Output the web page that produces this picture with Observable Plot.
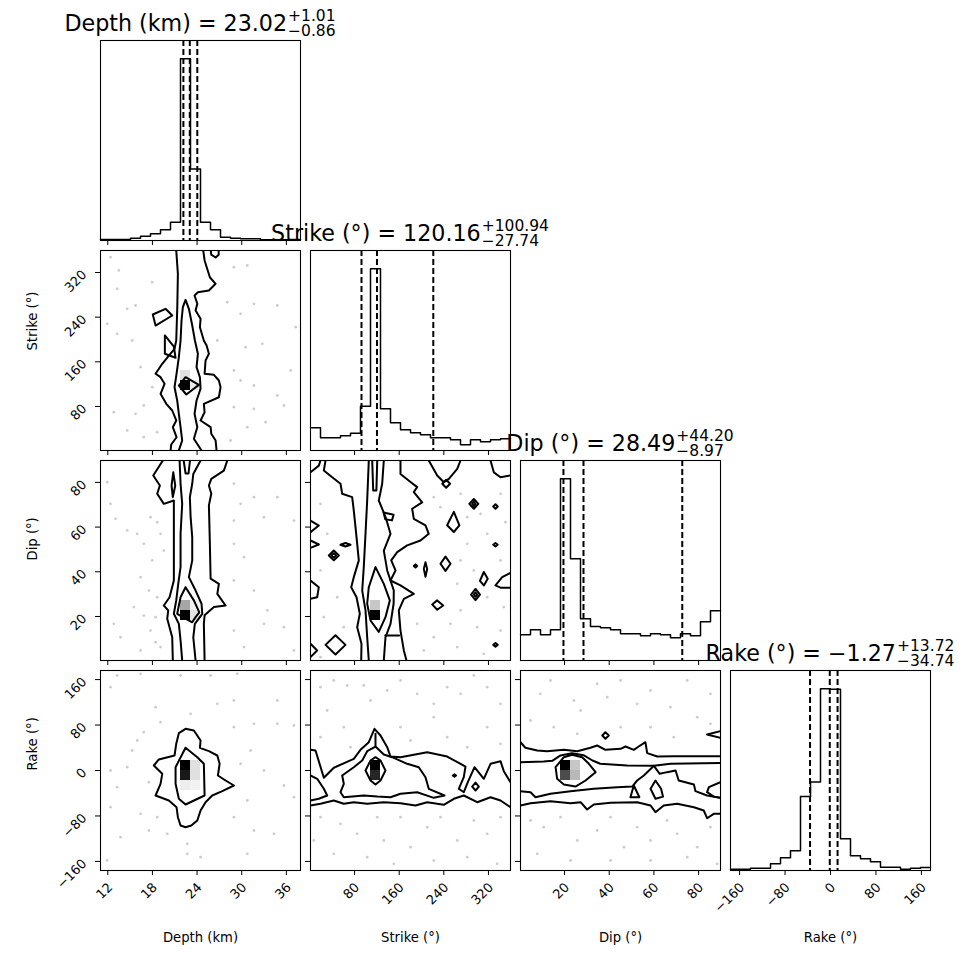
<!DOCTYPE html>
<html><head><meta charset="utf-8">
<script src="https://cdn.jsdelivr.net/npm/d3@7"></script>
<script src="https://cdn.jsdelivr.net/npm/@observablehq/plot@0.6"></script>
<style>
body{margin:0;background:#fff;}
#chart{position:relative;width:970px;height:970px;font-family:"DejaVu Sans",sans-serif;background:#fff;}
</style></head><body><div id="chart"></div>
<script>
// ---------- DATA ----------
const names = ["Depth (km)", "Strike (\u00b0)", "Dip (\u00b0)", "Rake (\u00b0)"];
const depthRange = [11.02, 37.9];
const strikeRange = [1, 359.5];
const dipRange = [0.3, 89.8];
const rakeRange = [-176, 176];

const depthTicks = [12, 18, 24, 30, 36];
const strikeTicks = [80, 160, 240, 320];
const dipTicks = [20, 40, 60, 80];
const rakeTicks = [-160, -80, 0, 80, 160];

const depthHist = [3,3,3,7,13,20,32,55,547,215,55,32,10,7,5,5,2,2,2,3];
const strikeHist = [68,38,38,44,52,133,545,125,83,62,53,47,38,38,32,17,32,26,32,35];
const dipHist = [77,92,77,92,545,305,125,102,98,92,80,80,74,80,77,68,80,74,116,149];
const rakeHist = [4,4,7,7,20,38,59,222,265,545,543,95,44,35,26,10,10,4,7,9];

const medians = [23.02, 120.16, 28.49, -1.27];
const errPlus = [1.01, 100.94, 44.20, 13.72];
const errMinus = [0.86, 27.74, 8.97, 34.74];

// contour polylines [x, y] in data units
const contoursDepthStrike = [
  [[20.44,1],[20.53,11.8],[21.24,24.8],[20.74,42.8],[21.2,54.8],[20.66,72.7],[19.86,84.7],[19.09,102.6],[19.63,120.5],[19.09,132.4],[18.42,138.5],[19.32,156.4],[20.21,171.2],[20.97,183.3],[21.2,198.2],[21.34,257.9],[21.42,317.7],[21.2,359.5]],
  [[24.83,359.5],[25.01,341.6],[25.72,311.6],[26.49,299.8],[25.59,287.8],[24.11,284.8],[23.66,278.8],[24.03,264],[23.8,252],[24.47,237.1],[24.38,222],[24.91,198.2],[25.28,189.2],[25.59,174.3],[25.14,162.3],[25.01,138.5],[26.26,136.7],[26.93,126.5],[27.16,114.5],[26.93,96.5],[24.91,84.6],[25.01,69.6],[24.47,54.8],[25.82,42.8],[25.91,30.9],[26.49,18.9],[26.62,1]],
  [[18.05,244.8],[19.76,255],[20.66,243],[18.42,225],[18.05,244.8]],
  [[19.67,207.2],[20.88,187.4],[21.11,167.2],[19.67,174.4],[19.67,207.2]],
  [[25.85,359.5],[25.9,352],[26.5,347],[26.9,352],[26.9,359.5]],
  [[21.55,1],[22.0,18.9],[21.78,42.8],[21.55,66.8],[21.33,90.6],[20.97,114.5],[21.24,138.5],[21.55,168.2],[21.78,198.2],[21.91,234],[22.09,257.9],[22.45,271.1],[22.9,255],[23.35,225],[23.71,198.2],[24.11,174.3],[23.93,150.4],[24.38,132.4],[24.47,111.6],[23.93,90.6],[23.66,66.8],[24.03,42.8],[23.57,22],[24.6,1]],
  [[21.55,117.5],[22.45,132.4],[24.24,118.7],[22.55,101.4],[21.55,117.5]]
];
const contoursDepthDip = [
  [[19.4,89.8],[18.11,83.1],[19.0,78.6],[18.64,74.9],[19.53,70.4],[20.88,71.9],[20.88,57.0],[20.88,36.1],[20.3,28.6],[19.53,24.9],[20.12,22.7],[19.99,19.0],[20.66,10.7],[20.74,0.3]],
  [[28.06,89.8],[27.6,85.3],[25.91,81.6],[25.59,78.6],[25.91,74.9],[25.59,69.7],[25.72,52.5],[25.82,36.9],[26.93,34.6],[26.72,30.1],[27.83,24.9],[26.26,24.2],[25.01,20.5],[24.91,16.7],[25.01,0.3]],
  [[21.65,89.8],[21.78,79.4],[22.0,70.4],[21.78,57.0],[21.78,42.1],[21.47,34.6],[21.2,27.2],[20.88,21.2],[21.55,16.7],[21.78,9.3],[22.0,0.3]],
  [[24.47,89.8],[23.49,83.8],[23.35,79.4],[23.03,73.4],[23.13,64.6],[23.35,55.5],[23.35,45.1],[22.9,37.6],[23.8,31.6],[24.6,25.7],[24.7,21.2],[23.7,16.7],[23.49,10.7],[23.8,0.3]],
  [[22.2,89.8],[22.45,84],[22.85,84],[23.05,89.8]],
  [[20.8,84.5],[21.07,78.6],[20.74,73.4],[20.57,78.6],[20.8,84.5]],
  [[22.45,33.1],[23.57,27.2],[24.3,21.8],[23.8,19.7],[23.35,17.4],[22.45,19.0],[21.33,21.2],[21.78,28.6],[22.45,33.1]]
];
const contoursStrikeDip = [
  [[27.9,89.8],[24.9,85.3],[39.9,82.3],[54.8,79.4],[57.8,74.9],[75.7,73.4],[78.6,67.4],[81.7,59.9],[84.7,52.5],[87.6,45.1],[78.6,37.6],[74,33.1],[83.5,28.6],[89.4,21.2],[84.7,15.2],[92.4,7.8],[91.9,0.3]],
  [[162.3,89.8],[162.3,83.8],[180.3,80.2],[192.2,77.9],[186.2,75.7],[201.2,71.1],[183.2,68.2],[186.2,63.7],[207.1,60.8],[213,57.0],[198.2,54.0],[174.3,51.8],[156.4,48.8],[145.7,45.1],[153.4,40.6],[144.4,36.1],[162.3,33.9],[186.2,30.1],[168.3,27.9],[159.3,22.7],[162.3,13.7],[168.3,4.8],[173.1,0.3]],
  [[105.5,89.8],[102.6,71.9],[99.6,57.0],[96.5,42.1],[93.7,31.6],[99.6,22.7],[102.6,10.7],[105.5,0.3]],
  [[132.4,89.8],[129.5,79.4],[123.4,71.9],[135.4,64.6],[144.4,57.0],[132.4,49.5],[138.5,40.6],[150.3,31.6],[150,25.7],[144.4,16.7],[135.4,10.7],[132.4,0.3]],
  [[117.5,42.1],[132.4,34.6],[143.2,27.2],[135.4,19.7],[123.4,13.1],[108.6,18.2],[102.6,25.7],[105.5,33.1],[117.5,42.1]],
  [[135,11.5],[160,11.5]],
  [[111.6,89.8],[113.4,76.4],[119.1,76.4],[120.6,89.8]],
  [[1,84.5],[15.9,87.5],[18.9,89.8]],
  [[213,89.8],[228.1,83.1],[240,80.1],[249,81.6],[264,86.1],[269.9,89.8]],
  [[323.7,89.8],[329.6,84.5],[341.6,82.3],[359.5,83.1]],
  [[359.5,39.5],[344.6,37.6],[332.6,33.9],[341.6,32.9],[359.5,32.9]],
  [[1,62.9],[15.9,60.7],[1,57.7]],
  [[1,54],[15.9,52.2],[1,50.7]],
  [[1,36.1],[15.9,33.1],[12.9,28.6],[1,27.9]],
  [[1,7.8],[12.9,4.8],[1,1.8]],
  [[33.8,47.3],[42.8,49.5],[51.8,47.3],[42.8,45.1],[33.8,47.3]],
  [[38.8,47.3],[42.8,48.3],[46.8,47.3],[42.8,46.3],[38.8,47.3]],
  [[54.7,52.1],[63.7,52.9],[72.7,52.1],[63.7,51.3],[54.7,52.1]],
  [[132,66.5],[150,65.5],[147,63],[135,63.5],[132,66.5]],
  [[237.2,79.4],[244.2,81.2],[251.2,79.4],[244.2,77.6],[237.2,79.4]],
  [[285.8,70.4],[293.8,72.6],[301.8,70.4],[293.8,68.2],[285.8,70.4]],
  [[290.8,70.4],[293.8,71.4],[296.8,70.4],[293.8,69.4],[290.8,70.4]],
  [[328.6,69.2],[332.6,70.2],[336.6,69.2],[332.6,68.2],[328.6,69.2]],
  [[245.9,60.8],[257.9,66.8],[267.9,60.8],[257.9,57.8],[245.9,60.8]],
  [[328.6,52.1],[332.6,52.9],[336.6,52.1],[332.6,51.3],[328.6,52.1]],
  [[234,43.6],[243,46.8],[252,43.6],[243,40.4],[234,43.6]],
  [[204.1,41.3],[207.1,44.3],[210.1,41.3],[207.1,37.8],[204.1,41.3]],
  [[186.2,42.6],[189.2,43.3],[192.2,42.6],[189.2,41.9],[186.2,42.6]],
  [[304.7,35.9],[311.7,39.9],[318.7,36.9],[311.7,33.9],[304.7,35.9]],
  [[288.8,29.8],[296.8,32.3],[304.8,29.8],[296.8,27.3],[288.8,29.8]],
  [[293.8,29.8],[296.8,30.8],[299.8,29.8],[296.8,28.8],[293.8,29.8]],
  [[328.6,7.3],[332.6,8.1],[336.6,7.3],[332.6,6.5],[328.6,7.3]],
  [[27.9,7.3],[45.8,11.6],[63.7,7.3],[45.8,3.0],[27.9,7.3]],
  [[219.1,25.4],[228.1,27.2],[238.9,24.9],[228.1,23.0],[219.1,25.4]]
];
const contoursDepthRake = [
  [[22.45,73.3],[23.57,70.4],[24.47,52.8],[24.38,39.9],[25.59,34.0],[26.72,26.4],[27.03,11.8],[26.8,-8.8],[27.83,-17.6],[28.95,-26.4],[27.39,-36.4],[26.04,-44],[25.14,-55.8],[24.47,-70.4],[24.03,-88],[23.22,-96.8],[22.45,-99.8],[21.78,-96.8],[21.42,-82.2],[21.24,-64.6],[20.21,-52.8],[18.42,-44],[19.09,-23.4],[19.32,-5.8],[18.19,8.8],[18.86,19.4],[20.97,26.4],[21.2,47.0],[21.55,65.7],[22.45,73.3]],
  [[22.45,39.9],[24.03,23.4],[24.91,11.8],[25.01,-44],[22.45,-59.8],[21.55,-49.8],[21.11,-23.4],[21.11,5.8],[22.45,39.9]]
];
const contoursStrikeRake = [
  [[1,-61.6],[18.9,-58.6],[42.8,-52.8],[60.7,-58.6],[78.6,-55.8],[102.6,-58.6],[132.4,-55.8],[162.3,-57.5],[189.2,-61.6],[210.2,-55.8],[239.9,-60.4],[257.9,-49.8],[275.8,-44],[299.8,-55.8],[323.7,-47],[341.6,-52.8],[359.5,-64.6]],
  [[1,36.4],[10,35.2],[24.9,-12.8],[42.8,4.8],[78.6,20.6],[90.6,36.4],[105.5,49.8],[115.7,73.4],[126.5,61.6],[138.5,41.0],[144.4,24.6],[162.3,23.4],[210.2,32.2],[246,24.6],[278.8,7.0],[275.8,-11.8],[266.8,-32.2],[275.8,-38.2],[283,-20.6],[295,5.8],[311.7,-14.6],[323.7,11.8],[341.6,16.4],[347.5,-1.2],[359.5,-20.6]],
  [[1,-8.8],[13,-14.6],[24.9,-32.2],[30.9,-44],[15.9,-49.8],[1,-52.8]],
  [[57.8,-8.8],[78.6,5.8],[93.7,17.6],[102.6,34.0],[117.5,42.2],[132.4,28.2],[147.4,23.4],[174.3,11.8],[195.1,5.8],[207.1,-11.8],[213,-32.2],[241.2,-44],[222,-48.1],[192.2,-38.2],[162.3,-41.0],[144.4,-47],[120.6,-45.8],[96.5,-44],[60.7,-47],[54.8,-38.2],[60.7,-23.4],[57.8,-8.8]],
  [[117.5,64.6],[117.5,44]],
  [[99.6,0],[108.6,17.6],[117.5,23.4],[126.5,17.6],[135.4,0],[126.5,-17.6],[117.5,-24.6],[108.6,-17.6],[99.6,0]],
  [[256,-8.8],[259.1,-6.8],[262,-8.8],[259.1,-10.8],[256,-8.8]],
  [[290.8,-28.2],[296.8,-21.2],[302.8,-28.2],[296.8,-35.2],[290.8,-28.2]]
];
const contoursDipRake = [
  [[0.3,49.8],[2.5,40.0],[7.8,35.2],[12.2,34.0],[19.7,36.4],[25.7,34.0],[31.6,40.0],[34.6,44],[38.3,36.4],[45.1,38.2],[47.3,42.2],[51.0,36.4],[53.2,42.2],[56.2,49.8],[57.0,30.5],[61.5,24.6],[68.9,25.2],[89.8,25.2]],
  [[0.3,-61.6],[4.8,-57.5],[13.7,-54],[22.7,-57.5],[27.2,-55.8],[30.1,-68.6],[33.1,-59.8],[40.6,-56.7],[52.5,-55.8],[58.5,-61.6],[60.7,-73.4],[64.4,-61.6],[70.4,-58.6],[77.9,-64.6],[82.3,-70.4],[83.8,-84],[86.8,-76.2],[89.8,-76.2]],
  [[0.3,14.6],[10.7,15.8],[14.5,17],[18.2,26.5],[23.4,30.5],[28.5,27],[32.5,17.6],[36,11.8],[48.0,8.8],[60.0,8.2],[62.6,-5.8],[65.9,-2.9],[69.7,0],[71.1,-17.6],[77.9,-24.6],[78.6,-36.4],[83.8,-44],[89.8,-48]],
  [[0.3,-36.4],[4.8,-38.2],[7.0,-47],[13.7,-41.0],[22.7,-36.4],[33.1,-32.2],[43.6,-29.4],[50.3,-28.2],[52.5,-17.6],[55.5,-8.8],[60.0,8.2],[67.4,11.8],[89.8,13.0]],
  [[16.0,5.8],[19.7,23.4],[23.4,27.6],[27.9,23.4],[30.9,11.8],[33.9,-2.9],[29.4,-17.6],[24.9,-28.2],[19.7,-24.6],[16.7,-14.6],[16.0,5.8]],
  [[36.9,61.6],[38.3,67.4],[39.8,61.6],[38.3,55.8],[36.9,61.6]],
  [[89.8,69.2],[83.8,63.4],[89.8,57.5]],
  [[49.5,-47],[51.0,-26.4],[53.5,-47],[49.5,-47]],
  [[58.5,-32.2],[60.7,-17.6],[63.2,-32.2],[64.1,-46],[60.7,-49.8],[58.5,-32.2]],
  [[89.8,-20.6],[84.6,-29.4],[83.8,-38.2],[86.8,-46],[89.8,-48]]
];

// scattered samples outside the lowest contour [x, y]
const pointsDepthStrike = [[12.37,347.5],[13.48,323.7],[17.97,302.7],[13.26,290.8],[15.73,260.9],[14.61,255],[11.92,228.1],[13.26,210.2],[15.28,198.2],[16.4,150.3],[17.97,114.5],[16.84,81.7],[15.73,66.8],[12.81,69.7],[14.61,36.9],[16.84,24.9],[18.64,33.9],[28.95,329.6],[30.75,332.6],[28.06,266.9],[31.64,264],[34.79,260.9],[29.85,246],[32.77,192.2],[37.25,222],[30.52,186.2],[28.95,144.4],[29.85,126.5],[31.64,117.5],[34.79,99.6],[28.95,78.6],[31.64,75.7],[35.67,81.7],[33.21,51.7],[28.5,18.9],[30.75,42.8],[36.58,144.4],[26.72,198.2]];
const pointsDepthDip = [[11.92,80.1],[12.37,70.4],[13.04,63.7],[14.61,58.5],[15.95,57.0],[16.84,52.5],[17.75,64.4],[18.64,62.2],[19.09,57.0],[19.53,49.5],[17.97,45.1],[16.4,37.6],[17.52,31.6],[18.64,28.6],[15.5,24.2],[16.84,20.4],[18.42,19.7],[17.74,13.7],[18.42,8.5],[19.09,6.3],[16.4,4.8],[12.81,16.7],[13.71,10.7],[28.95,79.4],[31.64,73.4],[34.79,73.4],[29.85,70.4],[28.95,62.9],[32.99,64.4],[37.02,62.9],[28.95,52.5],[30.3,46.6],[28.95,36.1],[31.64,31.6],[33.44,22.7],[35.67,15.2],[28.95,13.7],[30.3,6.3],[37.02,4.8],[32.99,16.7]];
const pointsStrikeDip = [[222,73.4],[234,68.9],[269.9,74.9],[281.9,64.4],[305.7,65.9],[341.6,74.9],[350.5,62.2],[317.7,57],[281.9,52.5],[269.9,45.1],[293.8,40.6],[341.6,45.1],[264,34.6],[317.7,28.6],[347.5,24.2],[269.9,22.7],[252,16.7],[299.8,15.2],[341.6,13.7],[222,10.7],[264,6.3],[311.7,3.3],[192.2,16.7],[204.1,4.8],[18.9,70.4],[30.9,57],[18.9,40.6],[48.9,28.6],[24.9,19.7],[60.7,15.2],[18.9,1.8]];
const pointsDepthRake = [[13.26,167.2],[16.4,170.1],[21.78,167.2],[25.82,167.2],[29.4,170.1],[12.37,146.7],[18.42,111.5],[19.09,85.1],[16.84,67.5],[15.95,52.8],[15.28,35.2],[12.37,0],[14.61,5.9],[13.26,-29.4],[17.52,-20.5],[16.4,-76.3],[18.64,-82.1],[17.52,-105.6],[19.99,-111.5],[22.68,-129.1],[22.68,-146.7],[24.47,-152.5],[12.37,-64.5],[28.95,76.3],[31.64,82.1],[34.79,82.1],[37.02,79.2],[31.2,35.2],[29.85,11.7],[32.99,0],[35.67,-26.4],[37.02,-46.9],[30.75,-52.8],[28.95,-82.1],[31.64,-105.6],[34.34,-111.5],[30.75,-146.7],[13.71,-117.4],[11.92,-158.4],[26.72,117.3],[28.95,123.2],[34.79,123.2],[23.13,99.7]];
const pointsStrikeRake = [[18.9,146.7],[42.8,158.4],[66.7,149.6],[96.5,149.6],[108.6,123.2],[138.5,140.8],[162.3,158.4],[192.2,134.9],[222,117.3],[246,146.7],[269.9,134.9],[293.8,167.2],[317.7,146.7],[341.6,117.3],[30.9,105.6],[60.7,76.3],[18.9,58.7],[72.7,41.1],[162.3,76.3],[180.3,52.8],[222,93.9],[246,58.7],[281.9,41.1],[317.7,76.3],[341.6,46.9],[18.9,-82.1],[54.8,-93.9],[84.6,-111.5],[120.6,-82.1],[132.4,-123.2],[162.3,-82.1],[180.3,-134.9],[210.2,-99.7],[234,-82.1],[264,-123.2],[293.8,-88],[317.7,-111.5],[341.6,-82.1],[42.8,-146.7],[102.6,-152.5],[150.4,-164.3],[222,-158.4],[281.9,-152.5],[335.6,-164.3],[6.9,-123.2]];
const pointsDipRake = [[9.2,134.9],[13.7,158.4],[24.2,123.2],[27.2,105.6],[34.6,152.5],[39.1,129.1],[45.1,158.4],[52.5,117.3],[58.5,140.8],[67.4,111.5],[74.9,158.4],[85.3,134.9],[4.8,88],[15.2,76.3],[25.7,64.5],[45.1,76.3],[58.5,76.3],[68.9,58.7],[79.4,93.9],[85.3,82.1],[4.8,-88],[10.7,-99.7],[18.2,-82.1],[25.7,-123.2],[34.6,-105.6],[40.6,-82.1],[46.6,-134.9],[52.5,-99.7],[58.5,-123.2],[65.9,-88],[70.4,-111.5],[79.4,-134.9],[85.3,-99.7],[7.8,-146.7],[22.7,-158.4],[40.6,-158.4],[58.5,-158.4],[74.9,-152.5],[88.3,-164.3]];

// 2-D histogram density cells [xBin, yBin, density]
const cellsDepthStrike = [[8,6,1],[8,7,0.12],[9,6,0.08]];
const cellsDepthDip = [[8,4,1],[8,5,0.35],[9,4,0.1],[9,5,0.05]];
const cellsStrikeDip = [[6,4,1],[6,5,0.22]];
const cellsDepthRake = [[8,10,1],[8,9,0.9],[9,10,0.12],[9,9,0.12],[8,8,0.07],[9,8,0.05]];
const cellsStrikeRake = [[6,10,1],[6,9,0.85]];
const cellsDipRake = [[4,10,1],[4,9,0.7],[5,10,0.22],[5,9,0.28]];

// ---------- DRAWING ----------
const ranges = [depthRange, strikeRange, dipRange, rakeRange];
const ticksAll = [depthTicks, strikeTicks, dipTicks, rakeTicks];
const hists = [depthHist, strikeHist, dipHist, rakeHist];
const pairs = {
  "1,0": [contoursDepthStrike, pointsDepthStrike, cellsDepthStrike],
  "2,0": [contoursDepthDip, pointsDepthDip, cellsDepthDip],
  "2,1": [contoursStrikeDip, pointsStrikeDip, cellsStrikeDip],
  "3,0": [contoursDepthRake, pointsDepthRake, cellsDepthRake],
  "3,1": [contoursStrikeRake, pointsStrikeRake, cellsStrikeRake],
  "3,2": [contoursDipRake, pointsDipRake, cellsDipRake]
};

const chart = document.getElementById("chart");
const colX = [100, 310, 520, 730];
const rowY = [40, 250, 460, 670];
const FONT = "DejaVu Sans";
const TICK_FS = 13;
const fmtNum = v => (v < 0 ? "\u2212" : "") + Math.abs(v);
const fmt2 = v => (v < 0 ? "\u2212" : "") + Math.abs(v).toFixed(2);
const edgesOf = r => d3.range(21).map(i => r[0] + i * (r[1] - r[0]) / 20);

function mount(svg, r, c) {
  Object.assign(svg.style, {position: "absolute", left: colX[c] + "px", top: rowY[r] + "px", overflow: "visible", background: "none", maxWidth: "none"});
  chart.appendChild(svg);
}
function baseOpts() {
  return {width: 200, height: 200, marginTop: 0, marginRight: 0, marginBottom: 0, marginLeft: 0,
    style: {fontFamily: FONT, fontSize: "12px", background: "none", overflow: "visible"}};
}
function xScale(i) { return {domain: ranges[i], ticks: ticksAll[i], tickSize: 5, tickFormat: () => "", label: null}; }
function xLabelMarks(i) {
  return [
    Plot.text(ticksAll[i], {x: d => d, text: fmtNum, frameAnchor: "bottom", dx: -1, dy: 11, rotate: -45, textAnchor: "end", lineAnchor: "top", fontSize: TICK_FS}),
    Plot.text([names[i]], {text: d => d, frameAnchor: "bottom", dy: 67, lineAnchor: "middle", fontSize: 13.2})
  ];
}
function yLabelMarks(i) {
  return [
    Plot.text(ticksAll[i], {y: d => d, text: fmtNum, frameAnchor: "left", dx: -16, rotate: -45, textAnchor: "end", lineAnchor: "middle", fontSize: TICK_FS}),
    Plot.text([names[i]], {text: d => d, frameAnchor: "left", dx: -68, rotate: -90, lineAnchor: "middle", fontSize: 13.2})
  ];
}

function histPanel(i) {
  const e = edgesOf(ranges[i]), h = hists[i];
  const steps = h.map((c, k) => ({x: e[k], y: c})).concat([{x: e[20], y: h[19]}]);
  const q = [medians[i] - errMinus[i], medians[i], medians[i] + errPlus[i]];
  const marks = [
    Plot.line(steps, {x: "x", y: "y", curve: "step-after", stroke: "black", strokeWidth: 1.5}),
    Plot.ruleX(q, {x: d => d, stroke: "black", strokeWidth: 2, strokeDasharray: "6,3"}),
    Plot.frame({stroke: "black", strokeWidth: 1.1})
  ];
  if (i === 3) marks.push(...xLabelMarks(i));
  mount(Plot.plot({...baseOpts(), x: xScale(i), y: {domain: [0, d3.max(h) * 1.1], axis: null}, marks}), i, i);
}

function pairPanel(r, c) {
  const [contours, points, cells] = pairs[r + "," + c];
  const ex = edgesOf(ranges[c]), ey = edgesOf(ranges[r]);
  const lines = contours.flatMap((l, k) => l.map(([x, y]) => ({x, y, k})));
  const marks = [
    Plot.dot(points, {x: d => d[0], y: d => d[1], r: 1.4, fill: "black", fillOpacity: 0.2}),
    Plot.rect(cells, {x1: d => ex[d[0]], x2: d => ex[d[0] + 1], y1: d => ey[d[1]], y2: d => ey[d[1] + 1], fill: "black", fillOpacity: d => d[2]}),
    Plot.line(lines, {x: "x", y: "y", z: "k", stroke: "black", strokeWidth: 2, strokeLinejoin: "round", clip: true}),
    Plot.frame({stroke: "black", strokeWidth: 1.1})
  ];
  if (c === 0) marks.push(...yLabelMarks(r));
  if (r === 3) marks.push(...xLabelMarks(c));
  mount(Plot.plot({...baseOpts(), x: xScale(c),
    y: {domain: ranges[r], ticks: ticksAll[r], tickSize: 5, tickFormat: () => "", label: null}, marks}), r, c);
}

for (let i = 0; i < 4; i++) histPanel(i);
for (let r = 1; r < 4; r++) for (let c = 0; c < r; c++) pairPanel(r, c);

// titles with stacked super/subscripts
const overlay = d3.select(chart).append("svg")
  .attr("width", 970).attr("height", 970)
  .style("position", "absolute").style("left", "0px").style("top", "0px")
  .style("overflow", "visible").style("pointer-events", "none");
for (let i = 0; i < 4; i++) {
  const g = overlay.append("g").attr("font-family", FONT).attr("fill", "black");
  const main = g.append("text").attr("font-size", 22.2).text(names[i] + " = " + fmt2(medians[i]));
  const sup = g.append("text").attr("font-size", 15.5).text("+" + errPlus[i].toFixed(2));
  const sub = g.append("text").attr("font-size", 15.5).text("\u2212" + errMinus[i].toFixed(2));
  const wm = main.node().getComputedTextLength();
  const ws = Math.max(sup.node().getComputedTextLength(), sub.node().getComputedTextLength());
  const x0 = colX[i] + 100 - (wm + ws + 1) / 2, top = rowY[i];
  main.attr("x", x0).attr("y", top - 9.5);
  sup.attr("x", x0 + wm + 1).attr("y", top - 19);
  sub.attr("x", x0 + wm + 1).attr("y", top - 4.5);
}
</script></body></html>
